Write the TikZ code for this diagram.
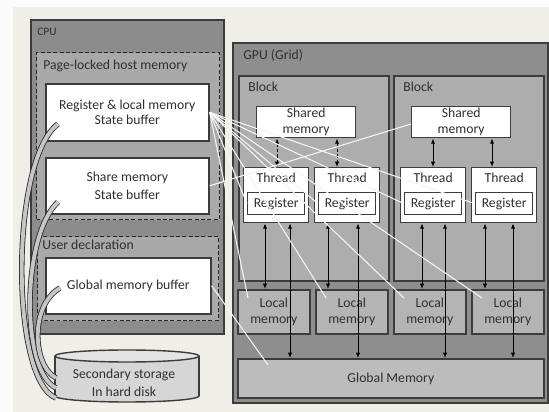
\documentclass[tikz,border=0pt]{standalone}
\usepackage{fontspec}
\setmainfont{Carlito}
\usetikzlibrary{arrows.meta, calc}

\definecolor{bgcream}{HTML}{F0EFE7}
\definecolor{cpugray}{HTML}{8C8C8C}
\definecolor{dashgray}{HTML}{A9A9A9}
\definecolor{gpugray}{HTML}{8E8E8E}
\definecolor{blockgray}{HTML}{ADADAD}
\definecolor{localgray}{HTML}{B4B4B4}
\definecolor{globalgray}{HTML}{BCBCBC}
\definecolor{diskgray}{HTML}{D6D6D6}
\definecolor{disktop}{HTML}{E4E4E4}
\definecolor{edgegray}{HTML}{3C3C3C}
\definecolor{textgray}{HTML}{303030}

\begin{document}
\begin{tikzpicture}[
  x=0.02cm, y=-0.02cm,
  every node/.style={font=\fontsize{7.8}{9}\selectfont, text=textgray, inner sep=0pt},
  sz/.style 2 args={minimum width=#1*\px, minimum height=#2*\px},
  hostbox/.style={draw=edgegray, line width=1pt, fill=cpugray, anchor=north west},
  pinbox/.style={draw=black!85, line width=0.7pt, dash pattern=on 2.2pt off 1.4pt, fill=dashgray, anchor=north west},
  bufbox/.style={draw=edgegray, line width=0.9pt, fill=white, anchor=north west, align=center},
  devbox/.style={draw=edgegray, line width=1pt, fill=gpugray, anchor=north west},
  blockbox/.style={draw=edgegray, line width=1pt, fill=blockgray, anchor=north west},
  cellbox/.style={draw=edgegray, line width=0.8pt, fill=white, anchor=north west, align=center},
  localbox/.style={draw=edgegray, line width=0.9pt, fill=localgray, anchor=north west, align=center},
  globalbox/.style={draw=edgegray, line width=1pt, fill=globalgray, anchor=north west},
  tag/.style={anchor=west},
  link/.style={{Latex[length=3pt,width=2.4pt]}-{Latex[length=3pt,width=2.4pt]}, line width=0.55pt, black},
  linkdash/.style={link, dash pattern=on 2pt off 1.2pt},
  wire/.style={draw=white!92!gray, line width=0.6pt},
  pipe/.style={draw=black!85, line width=0.45pt, double=gray!45, double distance=2.2pt}
]
%general params
\def\px{0.02cm} %one unit of the grid

%paper
\fill[bgcream] (0,0) rectangle (549,412);
\fill[white!97!gray] (0,0) rectangle (13,412);
\fill[white!97!gray] (0,0) rectangle (549,7);
\useasboundingbox (0,0) rectangle (549,412);

%host side
\node[hostbox, sz={193}{314}] (cpu) at (30,19) {};
\node[tag, font=\fontsize{6.5}{8}\selectfont] (cpulbl) at (37,32) {CPU};

\node[pinbox, sz={183}{167}] (pinned) at (36,52) {};
\node[tag] (pinlbl) at (43,66) {Page-locked host memory};
\node[bufbox, sz={163}{57}] (regbuf) at (45,83) {Register \& local memory\\State buffer};
\node[bufbox, sz={163}{56}, font=\fontsize{7.8}{10}\selectfont] (sharebuf) at (45,157) {Share memory\\State buffer};

\node[pinbox, sz={181}{84}] (userdecl) at (37,236) {};
\node[tag] (userlbl) at (42,245) {User declaration};
\node[bufbox, sz={165}{56}] (globbuf) at (45,257) {Global memory buffer};

%hard disk
\filldraw[draw=edgegray, line width=0.8pt, fill=diskgray] (127,396) ellipse [x radius=72, y radius=6];
\fill[diskgray] (55,356) rectangle (199,396);
\draw[edgegray, line width=0.8pt] (55,356) -- (55,396) (199,356) -- (199,396);
\filldraw[draw=edgegray, line width=0.8pt, fill=disktop] (127,356) ellipse [x radius=72, y radius=6];
\node[align=center, font=\fontsize{7.8}{10.5}\selectfont] (disk) at (124,383) {Secondary storage\\In hard disk};

%device side
\node[devbox, sz={315}{360}] (gpu) at (232,42) {};
\node[tag] (gpulbl) at (243,55) {GPU (Grid)};

\foreach \n/\bx in {1/238, 2/393} {
  \node[blockbox, sz={150}{205}] (blk\n) at (\bx,75) {};
  \node[tag] (blkl\n) at (\bx+10,87) {Block};
  \node[cellbox, sz={99}{31}] (sh\n) at (\bx+18,106) {Shared\\memory};
}

\foreach \i/\tx in {1/243, 2/314, 3/400, 4/471} {
  \node[cellbox, sz={65}{55}] (th\i) at (\tx,167) {};
  \node (thl\i) at ([yshift=-11*\px]th\i.north) {Thread};
  \node[cellbox, sz={57}{22}] (rg\i) at (\tx+4,192) {Register};
}

\foreach \i/\lx in {1/237, 2/315, 3/393, 4/471}
  \node[localbox, sz={72}{44}] (lm\i) at (\lx,289) {Local\\memory};

\node[globalbox, sz={306}{39}] (glob) at (237,358) {Global Memory};

%shared memory <-> threads
\foreach \i/\d in {1/34, 2/23, 3/33, 4/21}
  \coordinate (ts\i) at ([xshift=\d*\px]th\i.north west);
\draw[linkdash] (sh1.south -| ts1) -- (ts1);
\draw[linkdash] (sh1.south -| ts2) -- (ts2);
\draw[link] (sh2.south -| ts3) -- (ts3);
\draw[link] (sh2.south -| ts4) -- (ts4);

%threads <-> local and global memory
\foreach \i/\a/\b in {1/22/47, 2/14/44, 3/22/45, 4/14/42} {
  \coordinate (ta\i) at ([xshift=\a*\px]th\i.south west);
  \coordinate (tb\i) at ([xshift=\b*\px]th\i.south west);
  \draw[link] (ta\i) -- (ta\i |- lm\i.north);
  \draw[link] (tb\i) -- (tb\i |- glob.north);
}

%buffer mapping
\foreach \i in {1,...,4} {
  \draw[wire] (regbuf.east) -- (rg\i.west);
  \draw[wire] (regbuf.east) -- ([shift={(11,9)}]lm\i.north west);
}
\draw[wire] (sharebuf.east) -- ([shift={(0,18)}]sh2.north west);
\draw[wire] (globbuf.east) -- ([shift={(31,7)}]glob.north west);

%disk transfers
\coordinate (dk1) at (56,398);
\coordinate (dk2) at (56,388);
\coordinate (dk3) at (56,378);
\draw[pipe] (dk1) .. controls (10,380) and (10,160) .. ([shift={(13,41)}]regbuf.north west);
\draw[pipe] (dk2) .. controls (20,370) and (22,235) .. ([shift={(13,45)}]sharebuf.north west);
\draw[pipe] (dk3) .. controls (32,365) and (30,305) .. ([shift={(15,31)}]globbuf.north west);

\end{tikzpicture}
\end{document}
